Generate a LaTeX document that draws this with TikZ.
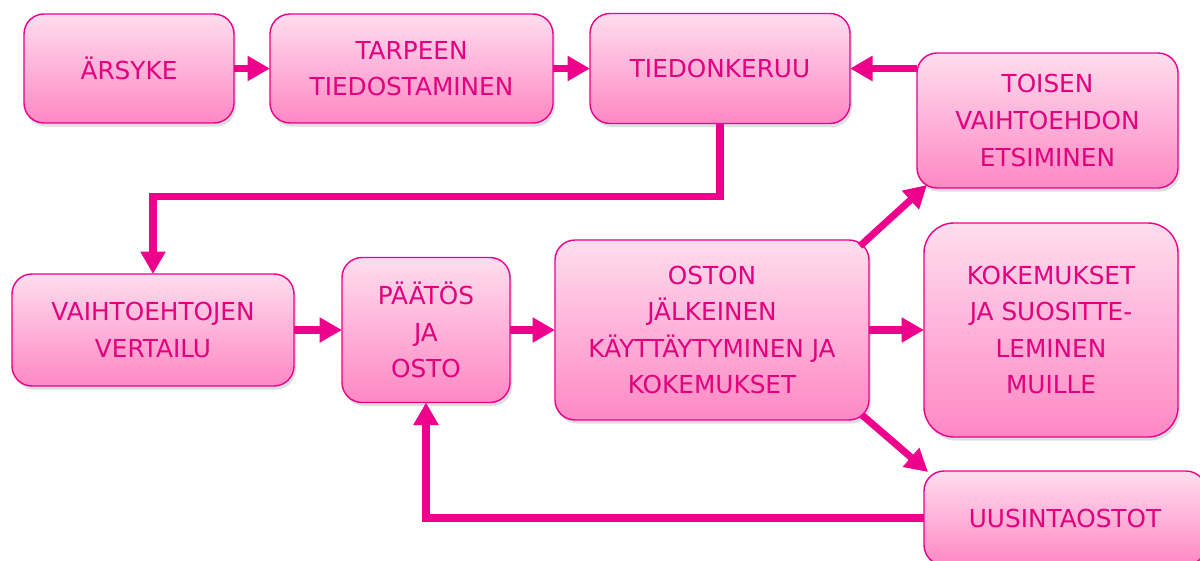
\documentclass[tikz,border=0pt]{standalone}
\usepackage{fontspec}
\setmainfont{DejaVu Sans}
\usetikzlibrary{positioning,arrows.meta,shadows}
\definecolor{pinkline}{HTML}{EC008C}
\definecolor{pinktext}{HTML}{E2007E}
\definecolor{pinktop}{HTML}{FFDDEE}
\definecolor{pinkbottom}{HTML}{FF88C4}

\begin{document}
\begin{tikzpicture}[
    box/.style={draw=pinkline, line width=1pt, rounded corners=0.5cm,
      top color=pinktop, bottom color=pinkbottom, text=pinktext,
      align=center, inner sep=0pt, outer sep=0pt, font=\fontsize{17.6}{26}\selectfont,
      drop shadow={shadow xshift=0.5mm, shadow yshift=-0.9mm, opacity=0.25}},
    flow/.style={draw=pinkline, line width=5pt, -{Triangle[width=17pt,length=16pt]}}
  ]
      \useasboundingbox (0,0) rectangle (30,-14);
      \clip (0,0) rectangle (30,-14);

      \node (1) [box, minimum width=5.25cm, minimum height=2.725cm] at (3.225,-1.7125) {ÄRSYKE};
      \node (2) [box, right=0.9cm of 1, minimum width=7.075cm, minimum height=2.725cm] {TARPEEN\\TIEDOSTAMINEN};
      \node (3) [box, right=0.925cm of 2, minimum width=6.5cm, minimum height=2.75cm] {TIEDONKERUU};
      \node (4) [box, minimum width=6.525cm, minimum height=3.375cm] at (26.1875,-3.0125) {TOISEN\\VAIHTOEHDON\\ETSIMINEN};

      \node (5) [box, minimum width=7.05cm, minimum height=2.8cm] at (3.825,-8.25) {VAIHTOEHTOJEN\\VERTAILU};
      \node (6) [box, right=1.2cm of 5, minimum width=4.2cm, minimum height=3.625cm] {PÄÄTÖS\\JA\\OSTO};
      \node (7) [box, right=1.125cm of 6, minimum width=7.85cm, minimum height=4.5cm] {OSTON\\JÄLKEINEN\\KÄYTTÄYTYMINEN JA\\KOKEMUKSET};
      \node (8) [box, right=1.375cm of 7, rounded corners=0.75cm, minimum width=6.35cm, minimum height=5.35cm] {KOKEMUKSET\\JA SUOSITTE-\\LEMINEN\\MUILLE};
      \node (9) [box, minimum width=7.05cm, minimum height=2.35cm] at (26.625,-12.95) {UUSINTAOSTOT};

      \draw[flow] (1) -- (2);
      \draw[flow] (2) -- (3);
      \draw[flow] (4.west |- 3.east) -- (3.east);
      \draw[flow] (3.south) -- ++(0,-1.825) -| (5.north);

      \draw[flow] (5) -- (6);
      \draw[flow] (6) -- (7);
      \draw[flow] (7) -- (8);
      \draw[flow] ([xshift=-0.225cm,yshift=-0.15cm]7.north east) -- ([xshift=0.25cm,yshift=0.075cm]4.south west);
      \draw[flow] ([xshift=-0.175cm,yshift=0.125cm]7.south east) -- ([xshift=0.1cm,yshift=-0.025cm]9.north west);
      \draw[flow] (9.west) -| (6.south);

    \end{tikzpicture}
\end{document}
